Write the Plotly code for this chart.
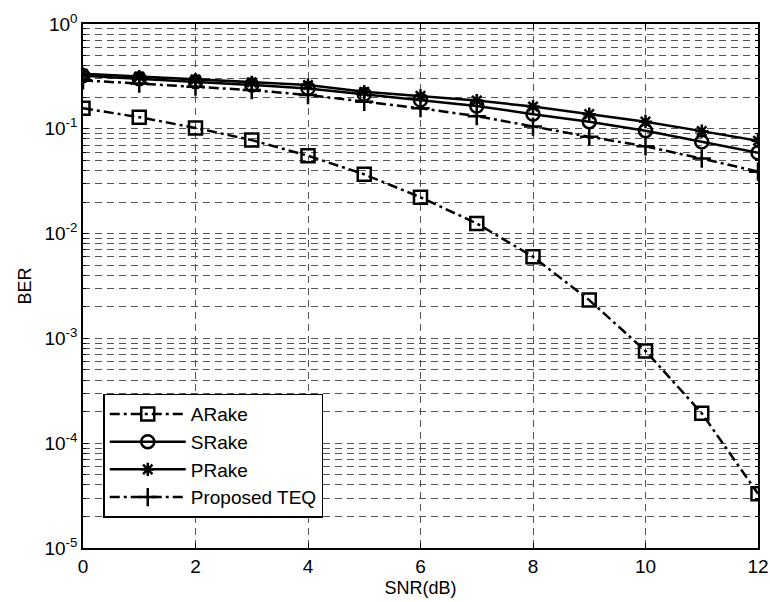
import plotly.graph_objects as go

# SNR sweep (dB)
snr = [0, 1, 2, 3, 4, 5, 6, 7, 8, 9, 10, 11, 12]

# Bit error rate for each receiver
ber_arake = [0.157, 0.129, 0.102, 0.078, 0.0553, 0.0368, 0.0222, 0.0125,
             0.00602, 0.00232, 0.00076, 0.000193, 0.000033]
ber_srake = [0.320, 0.300, 0.281, 0.262, 0.243, 0.213, 0.188, 0.165,
             0.138, 0.117, 0.096, 0.075, 0.059]
ber_prake = [0.335, 0.315, 0.295, 0.277, 0.262, 0.226, 0.206, 0.186,
             0.163, 0.138, 0.117, 0.095, 0.077]
ber_teq = [0.290, 0.270, 0.252, 0.234, 0.210, 0.181, 0.157, 0.132,
           0.105, 0.084, 0.068, 0.052, 0.039]

x_ticks = [0, 2, 4, 6, 8, 10, 12]
y_exponents = [0, -1, -2, -3, -4, -5]

FONT = "Liberation Sans, Arial, sans-serif"
DASHDOT = "10px,4px,3px,4px"
GRID = "7px,5px"

series = [
    ("ARake", ber_arake, DASHDOT, "square-open", 13),
    ("SRake", ber_srake, "solid", "circle-open", 13),
    ("PRake", ber_prake, "solid", "asterisk-open", 11),
    ("Proposed TEQ", ber_teq, DASHDOT, "cross-thin-open", 13),
]

fig = go.Figure()
for name, ber, dash, symbol, size in series:
    fig.add_trace(go.Scatter(
        x=snr, y=ber, name=name, legendgroup=name, mode="lines+markers",
        line=dict(color="black", width=2.5, dash=dash),
        marker=dict(symbol=symbol, size=size, color="black",
                    line=dict(width=2.5, color="black")),
    ))

fig.update_layout(
    width=770, height=602,
    margin=dict(l=83, r=12, t=24, b=54),
    paper_bgcolor="white", plot_bgcolor="white",
    font=dict(family=FONT, size=17, color="black"),
    showlegend=True,
    legend=dict(
        x=0.03, y=0.058, xanchor="left", yanchor="bottom",
        bgcolor="white", bordercolor="black", borderwidth=1.5,
        font=dict(family=FONT, size=19, color="black"),
        traceorder="grouped", tracegroupgap=0, itemwidth=76,
    ),
)

fig.update_xaxes(
    range=[0, 12], tickvals=x_ticks, ticktext=[str(v) for v in x_ticks],
    showline=True, linecolor="black", linewidth=1.5, mirror="allticks",
    ticks="inside", ticklen=5, tickcolor="black",
    showgrid=True, gridcolor="#555", griddash=GRID, gridwidth=1,
    zeroline=False, automargin=False,
    title=dict(text="SNR(dB)", standoff=6, font=dict(size=18)),
    tickfont=dict(size=19),
)

fig.update_yaxes(
    type="log", range=[-5, 0],
    tickvals=[10.0 ** e for e in y_exponents],
    ticktext=[f"10<sup>{e}</sup>" for e in y_exponents],
    showline=True, linecolor="black", linewidth=1.5, mirror="allticks",
    ticks="inside", ticklen=5, tickcolor="black",
    showgrid=True, gridcolor="#555", griddash=GRID, gridwidth=1,
    minor=dict(dtick="D1", showgrid=True, gridcolor="#555", griddash=GRID,
               ticks="inside", ticklen=3, tickcolor="black"),
    zeroline=False, automargin=False,
    title=dict(text="BER", standoff=8, font=dict(size=18)),
    tickfont=dict(size=19),
)

fig.write_html("out.html")
